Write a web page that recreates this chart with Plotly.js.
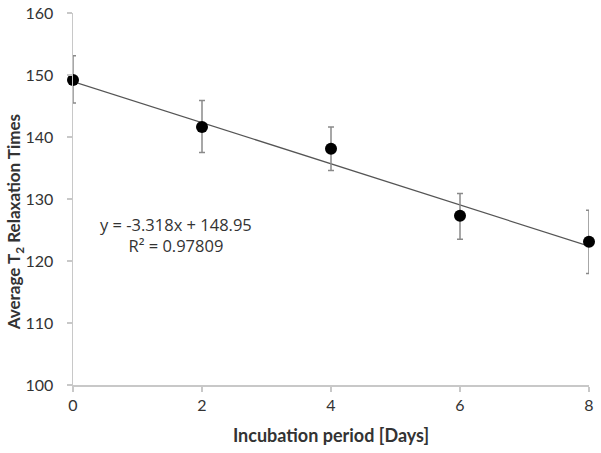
<!DOCTYPE html>
<html>
<head>
<meta charset="utf-8">
<script src="https://cdn.plot.ly/plotly-3.0.1.min.js"></script>
<style>html,body{margin:0;padding:0;background:#fff;}#chart{width:601px;height:453px;}</style>
</head>
<body>
<div id="chart"></div>
<script>
var days = [0, 2, 4, 6, 8];
var t2Mean = [149.2, 141.6, 138.1, 127.3, 123.1];
var errPlus = [3.9, 4.3, 3.5, 3.6, 5.1];
var errMinus = [3.7, 4.1, 3.5, 3.8, 5.1];
var trendX = [0, 8];
var trendY = [148.95, 122.4];
var xTicks = [0, 2, 4, 6, 8];
var yTicks = [100, 110, 120, 130, 140, 150, 160];
var eqText = 'y = -3.318x + 148.95<br>R² = 0.97809';
var yTitle = '<b>Average T<sub>2</sub> Relaxation Times</b>';
var xTitle = '<b>Incubation period [Days]</b>';

var font = 'Lato, "Open Sans", "DejaVu Sans", sans-serif';
var eqFont = '"Open Sans", Lato, sans-serif';

var data = [
  {
    x: trendX, y: trendY, mode: 'lines', type: 'scatter',
    line: {color: '#555555', width: 1.2}, hoverinfo: 'skip', showlegend: false
  },
  {
    x: days, y: t2Mean, mode: 'markers', type: 'scatter',
    marker: {color: '#000000', size: 12},
    error_y: {type: 'data', symmetric: false, array: errPlus, arrayminus: errMinus,
              color: '#8a8a8a', thickness: 1.5, width: 3},
    cliponaxis: false, showlegend: false
  }
];

var layout = {
  width: 601, height: 453,
  margin: {l: 73, r: 12, t: 13, b: 68},
  paper_bgcolor: '#ffffff', plot_bgcolor: '#ffffff',
  font: {family: font, color: '#333333', size: 15},
  showlegend: false,
  xaxis: {
    range: [0, 8], tickvals: xTicks, ticktext: xTicks.map(String),
    showgrid: false, zeroline: false, showline: true, linecolor: '#c8c8c8', linewidth: 1.5,
    ticks: 'outside', ticklen: 5, tickcolor: '#c8c8c8', tickwidth: 1.5,
    tickfont: {family: font, size: 16, color: '#333333'},
    title: {text: xTitle, font: {family: font, size: 18, color: '#333333'}, standoff: 16}
  },
  yaxis: {
    range: [100, 160], tickvals: yTicks, ticktext: yTicks.map(String),
    showgrid: false, zeroline: false, showline: true, linecolor: '#c8c8c8', linewidth: 1.5,
    ticks: 'outside', ticklen: 5, tickcolor: '#c8c8c8', tickwidth: 1.5,
    ticklabelstandoff: 10,
    tickfont: {family: font, size: 16, color: '#333333'}
  },
  annotations: [
    {x: 0.2, y: 0.403, xref: 'paper', yref: 'paper', xanchor: 'center', yanchor: 'middle',
     text: eqText, showarrow: false,
     align: 'center', font: {family: eqFont, size: 16.5, color: '#333333'}},
    {x: -0.112, y: 0.438, xref: 'paper', yref: 'paper', xanchor: 'center', yanchor: 'middle',
     text: yTitle, textangle: -90, showarrow: false,
     font: {family: font, size: 17, color: '#333333'}}
  ]
};

Plotly.newPlot('chart', data, layout, {displayModeBar: false, staticPlot: true});
</script>
</body>
</html>
